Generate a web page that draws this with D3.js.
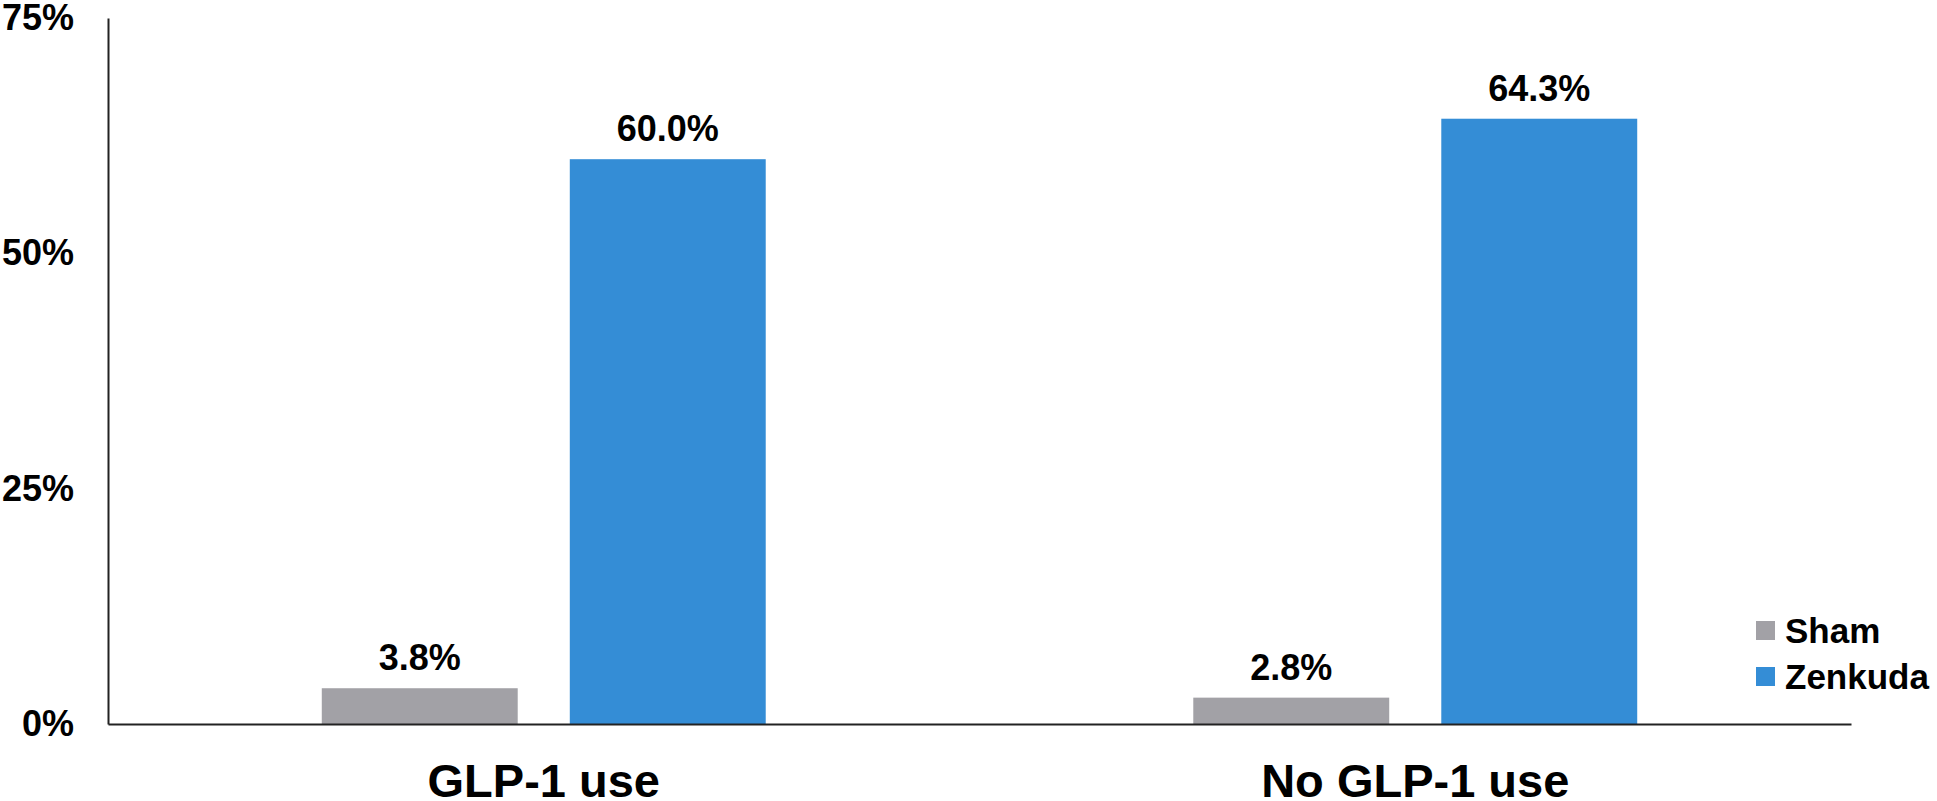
<!DOCTYPE html>
<html>
<head>
<meta charset="utf-8">
<script src="https://cdn.jsdelivr.net/npm/d3@7"></script>
<style>
  body { margin: 0; background: #fff; }
  svg { display: block; font-family: "Liberation Sans", Arial, sans-serif; font-weight: bold; }
</style>
</head>
<body>
<div id="chart"></div>
<script>
// data
const categories = ['GLP-1 use', 'No GLP-1 use'];
const seriesNames = ['Sham', 'Zenkuda'];
const shamValues = [3.8, 2.8];
const zenkudaValues = [60.0, 64.3];
const tickValues = [0, 25, 50, 75];
const seriesColors = ['#a2a1a6', '#348dd6'];

const width = 1937, height = 801;
const margin = { left: 108, right: 86, top: 18, bottom: 77 };

const svg = d3.select('#chart')
    .append('svg')
    .attr('width', width)
    .attr('height', height);

const x0 = d3.scaleBand()
    .domain(categories)
    .range([margin.left, width - margin.right])
    .padding(0);

const x1 = d3.scaleBand()
    .domain(seriesNames)
    .range([0, x0.bandwidth()])
    .paddingInner(0.21)
    .paddingOuter(0.862);

const y = d3.scaleLinear()
    .domain([0, 75])
    .range([height - margin.bottom, margin.top]);

const color = d3.scaleOrdinal().domain(seriesNames).range(seriesColors);

const rows = categories.map((c, i) => ({
    category: c,
    values: [
        { series: 'Sham', value: shamValues[i] },
        { series: 'Zenkuda', value: zenkudaValues[i] }
    ]
}));

// y axis (no ticks, labels only)
const yAxis = svg.append('g')
    .attr('transform', `translate(${margin.left},0)`)
    .call(d3.axisLeft(y).tickValues(tickValues).tickSize(0).tickPadding(34).tickFormat(d => d + '%'));
yAxis.select('.domain').attr('stroke', '#222').attr('stroke-width', 2);
yAxis.selectAll('text')
    .attr('font-size', 36)
    .attr('font-family', '"Liberation Sans", Arial, sans-serif')
    .attr('font-weight', 'bold')
    .attr('fill', '#000');

// bars
const groups = svg.append('g').selectAll('g')
    .data(rows)
    .join('g')
    .attr('transform', d => `translate(${x0(d.category)},0)`);

groups.selectAll('rect')
    .data(d => d.values)
    .join('rect')
    .attr('x', d => x1(d.series))
    .attr('width', x1.bandwidth())
    .attr('y', d => y(d.value))
    .attr('height', d => y(0) - y(d.value))
    .attr('fill', d => color(d.series));

groups.selectAll('text')
    .data(d => d.values)
    .join('text')
    .attr('x', d => x1(d.series) + x1.bandwidth() / 2)
    .attr('y', d => y(d.value) - 18)
    .attr('text-anchor', 'middle')
    .attr('font-size', 36)
    .attr('fill', '#000')
    .text(d => d.value.toFixed(1) + '%');

// x axis
const xAxis = svg.append('g')
    .attr('transform', `translate(0,${y(0)})`)
    .call(d3.axisBottom(x0).tickSize(0).tickPadding(40));
xAxis.select('.domain').attr('stroke', '#222').attr('stroke-width', 2);
xAxis.selectAll('text')
    .attr('font-size', 47)
    .attr('font-family', '"Liberation Sans", Arial, sans-serif')
    .attr('font-weight', 'bold')
    .attr('fill', '#000');

// legend
const legend = svg.append('g')
    .attr('transform', 'translate(1756,621)');
const items = legend.selectAll('g')
    .data(seriesNames)
    .join('g')
    .attr('transform', (d, i) => `translate(0,${i * 46})`);
items.append('rect')
    .attr('width', 19)
    .attr('height', 19)
    .attr('fill', d => color(d));
items.append('text')
    .attr('x', 29)
    .attr('y', 22)
    .attr('font-size', 35)
    .attr('fill', '#000')
    .text(d => d);
</script>
</body>
</html>
